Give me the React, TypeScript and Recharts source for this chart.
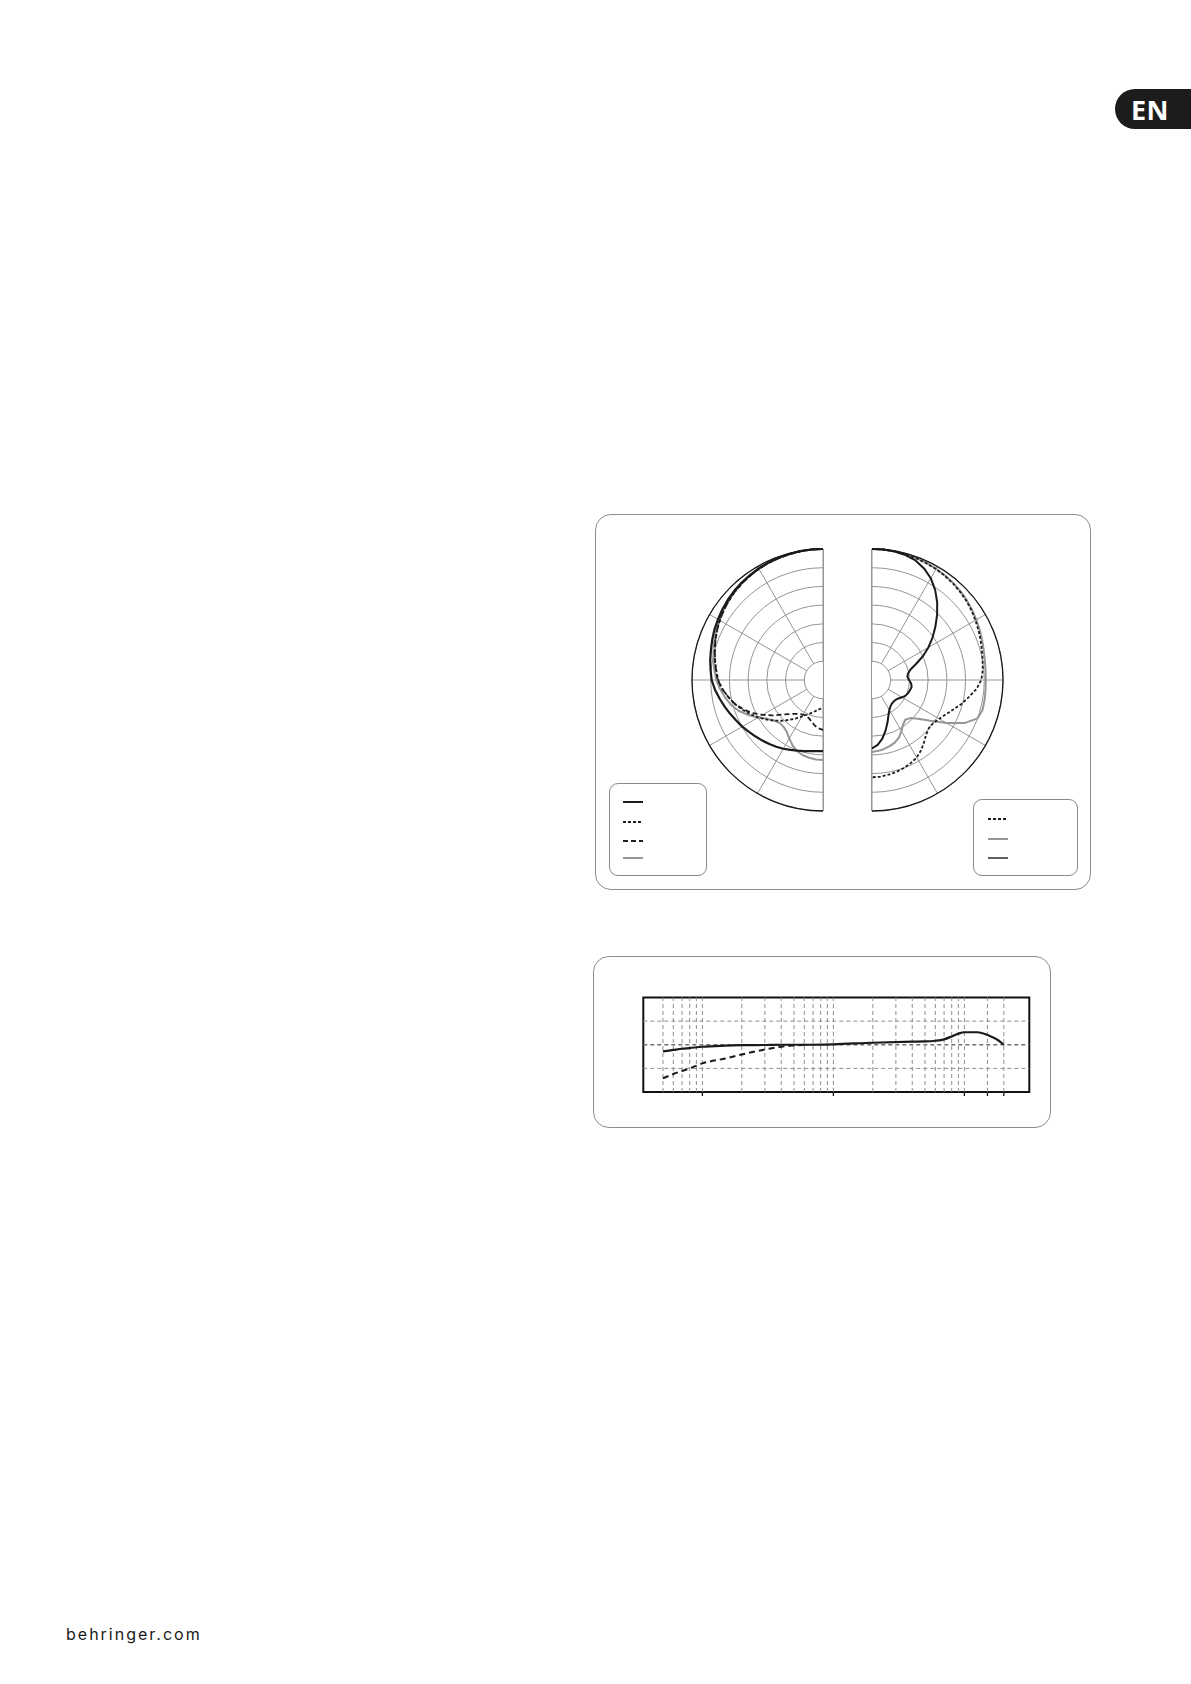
import React from 'react';
import {
  RadarChart, Radar, PolarGrid, PolarAngleAxis, PolarRadiusAxis, Legend,
  LineChart, Line, XAxis, YAxis, ReferenceLine, ReferenceArea,
} from 'recharts';

// ---------- Polar pattern data (radius in ring units, 7 = outer ring / 0 dB, 5 dB per ring) ----------
const polarAngles = [0, 5, 10, 15, 20, 25, 30, 35, 40, 45, 50, 55, 60, 65, 70, 75, 80, 85, 90,
  95, 100, 105, 110, 115, 120, 125, 130, 135, 140, 145, 150, 155, 160, 165, 170, 175, 180];

// left half
const leftSolid = [7.0, 7.0, 6.99, 6.97, 6.95, 6.92, 6.88, 6.83, 6.78, 6.72, 6.65, 6.57, 6.48, 6.4, 6.3, 6.2, 6.12, 6.03, 5.95,
  5.8, 5.62, 5.45, 5.28, 5.12, 4.98, 4.83, 4.7, 4.58, 4.46, 4.35, 4.24, 4.12, 4.02, 3.93, 3.86, 3.82, 3.8];
const leftDotted = [7.0, 7.0, 6.98, 6.96, 6.93, 6.9, 6.86, 6.8, 6.74, 6.67, 6.58, 6.48, 6.37, 6.25, 6.12, 5.98, 5.85, 5.72, 5.6,
  5.4, 5.15, 4.9, 4.6, 4.3, 4.0, 3.68, 3.38, 3.08, 2.78, 2.5, 2.25, 2.05, 1.88, 1.74, 1.62, 1.54, 1.5];
const leftDashed = [7.0, 7.0, 6.98, 6.96, 6.93, 6.9, 6.86, 6.8, 6.74, 6.67, 6.58, 6.48, 6.37, 6.25, 6.12, 5.99, 5.86, 5.74, 5.62,
  5.42, 5.15, 4.88, 4.55, 4.18, 3.72, 3.3, 2.88, 2.58, 2.36, 2.22, 2.13, 2.12, 2.18, 2.32, 2.48, 2.6, 2.67];
const leftGray = [7.0, 7.0, 6.98, 6.96, 6.93, 6.9, 6.86, 6.81, 6.75, 6.68, 6.6, 6.5, 6.4, 6.3, 6.18, 6.06, 5.94, 5.82, 5.7,
  5.52, 5.32, 5.1, 4.8, 4.42, 4.0, 3.62, 3.38, 3.26, 3.27, 3.38, 3.6, 3.85, 4.05, 4.16, 4.22, 4.26, 4.28];

// right half
const rightDotted = [7.0, 7.0, 6.98, 6.95, 6.92, 6.88, 6.84, 6.79, 6.73, 6.66, 6.58, 6.49, 6.38, 6.28, 6.18, 6.08, 6.0, 5.94, 5.84,
  5.6, 5.25, 4.95, 4.62, 4.35, 4.15, 4.0, 3.98, 4.1, 4.33, 4.58, 4.78, 4.9, 5.0, 5.08, 5.14, 5.18, 5.2];
const rightGray = [7.0, 7.0, 6.98, 6.96, 6.93, 6.9, 6.86, 6.81, 6.76, 6.7, 6.62, 6.53, 6.44, 6.35, 6.26, 6.18, 6.12, 6.09, 6.08,
  6.09, 6.11, 6.12, 6.0, 5.45, 4.6, 3.8, 3.22, 2.88, 2.77, 2.9, 3.15, 3.4, 3.56, 3.66, 3.74, 3.8, 3.85];
const rightSolid = [7.0, 7.0, 6.97, 6.91, 6.8, 6.58, 6.28, 5.88, 5.42, 4.92, 4.42, 3.95, 3.48, 3.0, 2.5, 2.12, 1.95, 1.9, 1.98,
  2.1, 2.15, 2.1, 2.05, 1.98, 1.85, 1.72, 1.65, 1.63, 1.65, 1.72, 1.85, 2.08, 2.42, 2.8, 3.18, 3.48, 3.65];

const ringRadii = [1, 2, 3, 4, 5, 6, 7];
const spokeAngles = [0, 30, 60, 90, 120, 150, 180, 210, 240, 270, 300, 330];

// ---------- Frequency response data ----------
const freqHz = [50, 60, 70, 80, 100, 150, 200, 300, 400, 500, 600, 1000, 2000, 4000, 5000, 6000, 7000, 8000, 9000, 10000, 12500, 15500, 18000, 20000];
const solidDb = [-2.8, -2.2, -1.7, -1.4, -0.85, -0.4, -0.2, -0.1, 0, 0, 0, 0.2, 0.85, 1.3, 1.4, 1.7, 2.3, 3.5, 4.7, 5.3, 5.3, 3.8, 2.0, 0];
const dashedDb = [-14.2, -12.4, -11.1, -10, -7.9, -5.8, -4.1, -2.0, -0.8, -0.3, 0, null, null, null, null, null, null, null, null, null, null, null, null, null];
const gridFreqs = [50, 60, 70, 80, 90, 100, 200, 300, 400, 500, 600, 700, 800, 900, 1000,
  2000, 3000, 4000, 5000, 6000, 7000, 8000, 9000, 10000, 15000, 20000];
const tickFreqs = [100, 1000, 10000, 15000, 20000];
const gridDb = [-10, 0, 10];
const freqDomain = [35.4, 31300];
const dbDomain = [-20, 20];

// ---------- helpers ----------
type SeriesDef = { key: string; values: number[]; stroke: string; width: number; dash?: string; legendWidth?: number };

const leftSeries: SeriesDef[] = [
  { key: 'gray', values: leftGray, stroke: '#969696', width: 2 },
  { key: 'dashed', values: leftDashed, stroke: '#1e1e1e', width: 1.8, dash: '5 3' },
  { key: 'dotted', values: leftDotted, stroke: '#1e1e1e', width: 1.8, dash: '3 2' },
  { key: 'solid', values: leftSolid, stroke: '#1a1a1a', width: 2.2 },
];
const leftLegendOrder = ['solid', 'dotted', 'dashed', 'gray'];

const rightSeries: SeriesDef[] = [
  { key: 'gray', values: rightGray, stroke: '#969696', width: 2 },
  { key: 'dotted', values: rightDotted, stroke: '#1e1e1e', width: 1.8, dash: '3 2' },
  { key: 'solid', values: rightSolid, stroke: '#1a1a1a', width: 2, legendWidth: 1.4 },
];
const rightLegendOrder = ['dotted', 'gray', 'solid'];

function buildPolarTable(series: SeriesDef[]) {
  const half = polarAngles.map((a, i) => {
    const row: Record<string, number> = { angle: a };
    series.forEach((s) => { row[s.key] = s.values[i]; });
    return row;
  });
  const mirror = polarAngles.slice(1, -1).map((a, j) => {
    const row: Record<string, number> = { angle: 360 - a };
    series.forEach((s) => { row[s.key] = s.values[j + 1]; });
    return row;
  }).reverse();
  return [...half, ...mirror];
}

const RING_PX = 131 / 7;

function LegendBox({ series, order, width, height, x1, x2, ys }: { series: SeriesDef[]; order: string[]; width: number; height: number; x1: number; x2: number; ys: number[] }) {
  return (
    <div style={{ width, height, boxSizing: 'border-box', border: '1.4px solid #8a8a8a', borderRadius: 9, background: '#fff' }}>
      <svg width={width - 3} height={height - 3} style={{ display: 'block' }}>
        {order.map((k, i) => {
          const s = series.find((d) => d.key === k)!;
          return (
            <line key={k} x1={x1} x2={x2} y1={ys[i]} y2={ys[i]} stroke={s.stroke}
              strokeWidth={s.legendWidth ?? 2} strokeDasharray={s.dash} />
          );
        })}
      </svg>
    </div>
  );
}

function PolarHalf({ series, order, width, cx, legendPos }: { series: SeriesDef[]; order: string[]; width: number; cx: number; legendPos: { left: number; top: number; width: number; height: number; x1: number; x2: number; ys: number[] } }) {
  const data = buildPolarTable(series);
  return (
    <RadarChart width={width} height={370} data={data} cx={cx} cy={160}
      innerRadius={RING_PX} outerRadius={131} margin={{ top: 0, right: 0, bottom: 0, left: 0 }}>
      <PolarGrid gridType="circle" polarRadius={ringRadii.map((r) => r * RING_PX)} polarAngles={spokeAngles}
        stroke="#959595" strokeWidth={1} />
      <PolarAngleAxis dataKey="angle" tick={false} tickLine={false} axisLineType="circle"
        axisLine={{ stroke: '#1a1a1a', strokeWidth: 1.3 }} />
      <PolarRadiusAxis domain={[1, 7]} type="number" tick={false} axisLine={false} tickLine={false} />
      {series.map((s) => (
        <Radar key={s.key} dataKey={s.key} stroke={s.stroke} strokeWidth={s.width} strokeDasharray={s.dash}
          fill="none" fillOpacity={0} dot={false} isAnimationActive={false} strokeLinejoin="round" />
      ))}
      <Legend
        wrapperStyle={{ left: legendPos.left, top: legendPos.top, width: legendPos.width, height: legendPos.height, bottom: 'auto' }}
        content={() => (
          <LegendBox series={series} order={order} width={legendPos.width} height={legendPos.height}
            x1={legendPos.x1} x2={legendPos.x2} ys={legendPos.ys} />
        )}
      />
    </RadarChart>
  );
}

const EmptyTick = () => <g />;

function FreqChart() {
  const data = freqHz.map((f, i) => ({ f, solid: solidDb[i], dashed: dashedDb[i] }));
  return (
    <LineChart width={458} height={172} data={data}
      margin={{ top: 41.5, left: 50.3, right: 21.7, bottom: 26 }}>
      <XAxis dataKey="f" type="number" scale="log" domain={freqDomain} allowDataOverflow ticks={tickFreqs}
        tick={<EmptyTick />} axisLine={false} tickLine={{ stroke: '#111', strokeWidth: 1.3 }} tickSize={4} height={10} interval={0} />
      <YAxis type="number" domain={dbDomain} hide allowDataOverflow />
      {gridFreqs.map((f) => (
        <ReferenceLine key={'v' + f} x={f} stroke="#8f8f8f" strokeWidth={1} strokeDasharray="4 3" />
      ))}
      {gridDb.map((d) => (
        <ReferenceLine key={'h' + d} y={d} stroke={d === 0 ? '#6f6f6f' : '#8f8f8f'} strokeWidth={d === 0 ? 1.5 : 1} strokeDasharray="4 3" />
      ))}
      <ReferenceArea x1={freqDomain[0]} x2={freqDomain[1]} y1={dbDomain[0]} y2={dbDomain[1]}
        fill="none" fillOpacity={0} stroke="#111" strokeWidth={2} />
      <Line dataKey="dashed" type="monotone" stroke="#1a1a1a" strokeWidth={2} strokeDasharray="6 4"
        dot={false} isAnimationActive={false} connectNulls={false} />
      <Line dataKey="solid" type="monotone" stroke="#1a1a1a" strokeWidth={2.2}
        dot={false} isAnimationActive={false} />
    </LineChart>
  );
}

export default function App() {
  return (
    <div style={{ position: 'absolute', left: 0, top: 0, width: 1191, height: 1684, background: '#fff', overflow: 'hidden' }}>
      {/* EN badge */}
      <div style={{
        position: 'absolute', left: 1115, top: 89, width: 76, height: 40, background: '#1c1c1c',
        borderRadius: '20px 0 0 20px', display: 'flex', alignItems: 'center',
      }}>
        <span style={{ marginLeft: 16, color: '#fff', fontFamily: '"Open Sans", sans-serif', fontWeight: 700, fontSize: 27, letterSpacing: 0.5 }}>EN</span>
      </div>

      {/* polar frame */}
      <div style={{ position: 'absolute', left: 595, top: 514, width: 496, height: 376, boxSizing: 'border-box', border: '1.5px solid #8e8e8e', borderRadius: 16 }} />
      {/* straight edges of the two half discs */}
      <div style={{ position: 'absolute', left: 823, top: 549, width: 1, height: 262, background: '#959595' }} />
      <div style={{ position: 'absolute', left: 871, top: 549, width: 1, height: 262, background: '#959595' }} />

      <div style={{ position: 'absolute', left: 600, top: 520, width: 223, height: 370, overflow: 'hidden' }}>
        <PolarHalf series={leftSeries} order={leftLegendOrder} width={223} cx={223}
          legendPos={{ left: 9, top: 263, width: 98, height: 93, x1: 13, x2: 33, ys: [18, 38, 57, 74] }} />
      </div>
      <div style={{ position: 'absolute', left: 872, top: 520, width: 218, height: 370, overflow: 'hidden' }}>
        <PolarHalf series={rightSeries} order={rightLegendOrder} width={218} cx={0}
          legendPos={{ left: 101, top: 279, width: 105, height: 77, x1: 14, x2: 34, ys: [19, 39, 58] }} />
      </div>

      {/* frequency response frame */}
      <div style={{ position: 'absolute', left: 593, top: 956, width: 458, height: 172, boxSizing: 'border-box', border: '1.5px solid #8e8e8e', borderRadius: 16 }} />
      <div style={{ position: 'absolute', left: 593, top: 956, width: 458, height: 172 }}>
        <FreqChart />
      </div>

      {/* footer */}
      <div style={{
        position: 'absolute', left: 66, top: 1625.7, lineHeight: '16px', fontSize: 16, fontFamily: 'Inter, sans-serif',
        color: '#1a1a1a', letterSpacing: 2, whiteSpace: 'nowrap',
      }}>behringer.com</div>
    </div>
  );
}
